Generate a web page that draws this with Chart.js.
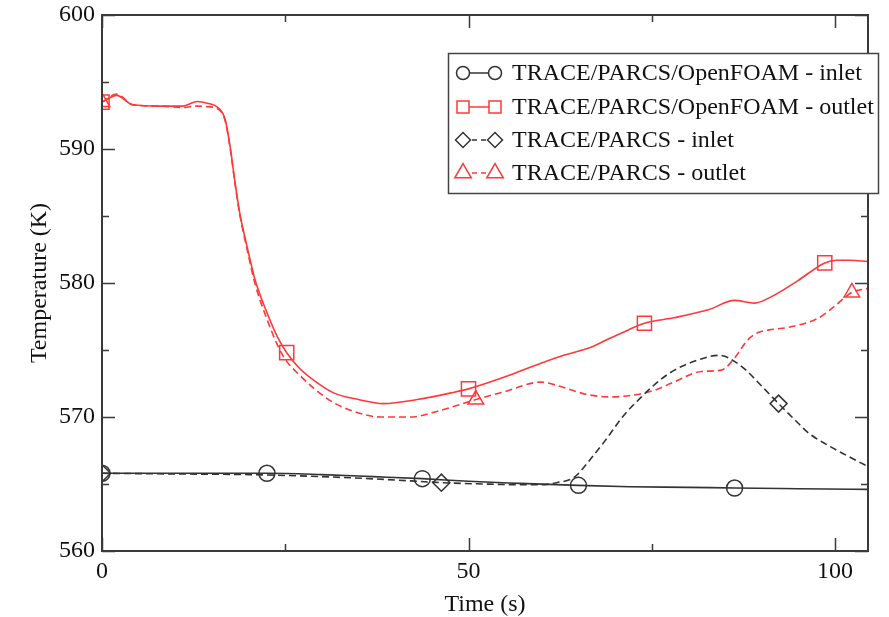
<!DOCTYPE html>
<html>
<head>
<meta charset="utf-8">
<script src="https://cdn.jsdelivr.net/npm/chart.js@4/dist/chart.umd.min.js"></script>
<style>
  html, body { margin: 0; padding: 0; background: #fff; }
  #wrap { width: 889px; height: 617px; }
</style>
</head>
<body>
<div id="wrap"><canvas id="c" width="889" height="617"></canvas></div>
<script>
// Coolant temperature at core inlet/outlet, coupled vs. stand-alone runs
const foamInletT = [0, 5, 10, 15, 22.5, 30, 37, 43.7, 50, 57, 65, 72, 80, 86.3, 95, 104.5];
const foamInletV = [565.8, 565.8, 565.8, 565.8, 565.8, 565.7, 565.55, 565.4, 565.2, 565.05, 564.9, 564.8, 564.75, 564.7, 564.65, 564.6];
const foamInletMarks = [0, 22.5, 43.7, 65, 86.3];

const foamOutletT = [0, 2, 4.2, 8, 11, 13, 14.5, 15.8, 16.8, 17.5, 18.1, 18.8, 19.8, 20.9, 22.5, 24, 25.2, 27, 29, 31.6, 35, 38.4, 43, 47.6, 50, 55, 59.8, 63, 66.7, 69, 71.8, 74, 78, 82.7, 86.3, 89, 91.4, 95, 98.6, 100.2, 102, 104.5];
const foamOutletV = [593.5, 594.0, 593.3, 593.2, 593.2, 593.55, 593.4, 593.1, 592.2, 590.1, 587.7, 585.2, 582.7, 580.2, 577.8, 575.9, 574.8, 573.6, 572.7, 571.8, 571.3, 571.0, 571.3, 571.8, 572.1, 573.0, 574.0, 574.6, 575.2, 575.8, 576.5, 577.0, 577.4, 578.0, 578.7, 578.5, 579.0, 580.2, 581.5, 581.7, 581.7, 581.6];
const foamOutletMarks = [0, 25.2, 50, 74, 98.6];

const traceInletT = [0, 10, 20, 30, 40, 46.3, 52, 57, 60, 62, 64.4, 67, 69, 71, 73.6, 76, 78.1, 81, 84.2, 87.2, 90, 92.3, 94.5, 96.4, 99, 101, 104.5];
const traceInletV = [565.8, 565.75, 565.7, 565.55, 565.3, 565.1, 565.0, 564.95, 564.95, 565.1, 565.5, 567.1, 568.5, 570.0, 571.5, 572.7, 573.5, 574.2, 574.6, 573.8, 572.3, 571.0, 569.8, 568.8, 567.9, 567.3, 566.3];
const traceInletMarks = [0, 46.3, 92.3];

const traceOutletT = [0, 2, 4.2, 8, 11, 13, 14.5, 15.8, 16.8, 17.5, 18.1, 18.8, 19.8, 20.9, 22.5, 24, 25, 27, 29, 31.5, 35, 38, 42, 46.2, 51, 55, 59.8, 63, 66, 69.4, 72, 75.4, 78, 81.8, 84.5, 86.3, 88, 89.5, 91, 93.7, 97.8, 100, 102.3, 104.5];
const traceOutletV = [593.5, 594.1, 593.3, 593.2, 593.1, 593.2, 593.15, 593.0, 592.1, 590.0, 587.6, 585.1, 582.5, 579.9, 577.3, 575.3, 574.3, 573.1, 572.1, 571.1, 570.3, 570.0, 570.0, 570.5, 571.3, 571.9, 572.6, 572.2, 571.7, 571.5, 571.6, 572.0, 572.6, 573.4, 573.5, 574.4, 575.7, 576.3, 576.5, 576.7, 577.4, 578.3, 579.3, 579.6];
const traceOutletMarks = [0, 51, 102.3];

const seriesNames = [
  'TRACE/PARCS/OpenFOAM - inlet',
  'TRACE/PARCS/OpenFOAM - outlet',
  'TRACE/PARCS - inlet',
  'TRACE/PARCS - outlet'
];
const xTickValues = [0, 50, 100];
const xMinorValues = [25, 75];
const yTickValues = [560, 570, 580, 590, 600];
const yMinorValues = [565, 575, 585, 595];

const RED = '#ff3838';
const DARK = '#333333';
const SERIF = '"Liberation Serif", "DejaVu Serif", serif';

function pts(t, v) { return t.map((x, i) => ({ x: x, y: v[i] })); }

function makeSet(label, t, v, marks, color, dash, style, r) {
  return {
    label: label,
    data: pts(t, v),
    borderColor: color,
    backgroundColor: 'rgba(0,0,0,0)',
    borderWidth: 1.6,
    borderDash: dash,
    cubicInterpolationMode: 'monotone',
    pointStyle: style,
    pointBorderColor: color,
    pointBackgroundColor: 'rgba(0,0,0,0)',
    pointBorderWidth: 1.5,
    pointRadius: ctx => marks.includes(t[ctx.dataIndex]) ? r : 0,
    pointHoverRadius: 0,
    _style: style
  };
}

const datasets = [
  makeSet(seriesNames[0], foamInletT, foamInletV, foamInletMarks, DARK, [], 'circle', 8),
  makeSet(seriesNames[1], foamOutletT, foamOutletV, foamOutletMarks, RED, [], 'rect', 10),
  makeSet(seriesNames[2], traceInletT, traceInletV, traceInletMarks, DARK, [7, 4], 'rectRot', 8.5),
  makeSet(seriesNames[3], traceOutletT, traceOutletV, traceOutletMarks, RED, [7, 4], 'triangle', 9)
];

// Inward tick marks on all four sides plus the closing frame
const frameTicks = {
  id: 'frameTicks',
  afterDraw(chart) {
    const { ctx, chartArea: a, scales: { x, y } } = chart;
    ctx.save();
    ctx.strokeStyle = '#3a3a3a';
    ctx.lineWidth = 1.5;
    ctx.beginPath();
    const major = 13, minor = 7;
    xTickValues.concat(xMinorValues).forEach(v => {
      const px = Math.round(x.getPixelForValue(v)) + 0.5;
      const len = xTickValues.includes(v) ? major : minor;
      ctx.moveTo(px, a.bottom); ctx.lineTo(px, a.bottom - len);
      ctx.moveTo(px, a.top); ctx.lineTo(px, a.top + len);
    });
    yTickValues.concat(yMinorValues).forEach(v => {
      const py = Math.round(y.getPixelForValue(v)) + 0.5;
      const len = yTickValues.includes(v) ? major : minor;
      ctx.moveTo(a.left, py); ctx.lineTo(a.left + len, py);
      ctx.moveTo(a.right, py); ctx.lineTo(a.right - len, py);
    });
    ctx.stroke();
    ctx.lineWidth = 2;
    ctx.strokeRect(a.left, a.top, a.right - a.left, a.bottom - a.top);
    ctx.restore();
  }
};

// Boxed legend with "marker–line–marker" samples
const boxLegend = {
  id: 'boxLegend',
  afterDraw(chart) {
    const { ctx } = chart;
    const bx = 448, by = 53, bw = 430, bh = 140;
    ctx.save();
    ctx.fillStyle = '#fff';
    ctx.fillRect(bx, by, bw, bh);
    ctx.strokeStyle = '#444';
    ctx.lineWidth = 1.5;
    ctx.strokeRect(bx + 0.5, by + 0.5, bw, bh);
    const rowY = [73, 107, 140, 173];
    const sizes = [6.5, 8.5, 7.5, 9.5];
    chart.data.datasets.forEach((ds, i) => {
      const yy = rowY[i];
      ctx.strokeStyle = ds.borderColor;
      ctx.lineWidth = 1.5;
      ctx.setLineDash(ds.borderDash.length ? [5, 4] : []);
      ctx.beginPath();
      ctx.moveTo(463, yy); ctx.lineTo(495, yy);
      ctx.stroke();
      ctx.setLineDash([]);
      [463, 495].forEach(px => {
        ctx.fillStyle = '#fff';
        Chart.helpers.drawPoint(ctx, { pointStyle: ds._style, radius: sizes[i], borderWidth: 1.5, rotation: 0 }, px, yy);
      });
      ctx.fillStyle = '#111';
      ctx.font = '24px ' + SERIF;
      ctx.textBaseline = 'middle';
      ctx.textAlign = 'left';
      ctx.fillText(ds.label, 512, yy + 1);
    });
    ctx.restore();
  }
};

new Chart(document.getElementById('c'), {
  type: 'line',
  data: { datasets: datasets },
  options: {
    responsive: false,
    animation: false,
    events: [],
    layout: { padding: { top: 15, right: 21, left: 0, bottom: 0 } },
    plugins: { legend: { display: false }, tooltip: { enabled: false } },
    scales: {
      x: {
        type: 'linear',
        min: 0, max: 104.5,
        afterFit(s) { s.height = 66; s.paddingLeft = 0; s.paddingRight = 0; },
        afterBuildTicks(s) { s.ticks = xTickValues.map(v => ({ value: v })); },
        grid: { display: false, drawTicks: false },
        border: { display: false },
        ticks: { padding: 6, color: '#111', font: { family: SERIF, size: 24 }, maxRotation: 0 },
        title: { display: true, text: 'Time (s)', color: '#111', font: { family: SERIF, size: 24, lineHeight: 1 }, padding: { top: 4, bottom: 0 } }
      },
      y: {
        type: 'linear',
        min: 560, max: 600,
        afterFit(s) { s.width = 102; s.paddingTop = 0; s.paddingBottom = 0; },
        afterBuildTicks(s) { s.ticks = yTickValues.map(v => ({ value: v })); },
        grid: { display: false, drawTicks: false },
        border: { display: false },
        ticks: { padding: 7, color: '#111', font: { family: SERIF, size: 24 } },
        title: { display: true, text: 'Temperature (K)', color: '#111', font: { family: SERIF, size: 24 }, padding: { top: 25, bottom: 0 } }
      }
    }
  },
  plugins: [frameTicks, boxLegend]
});
</script>
</body>
</html>
